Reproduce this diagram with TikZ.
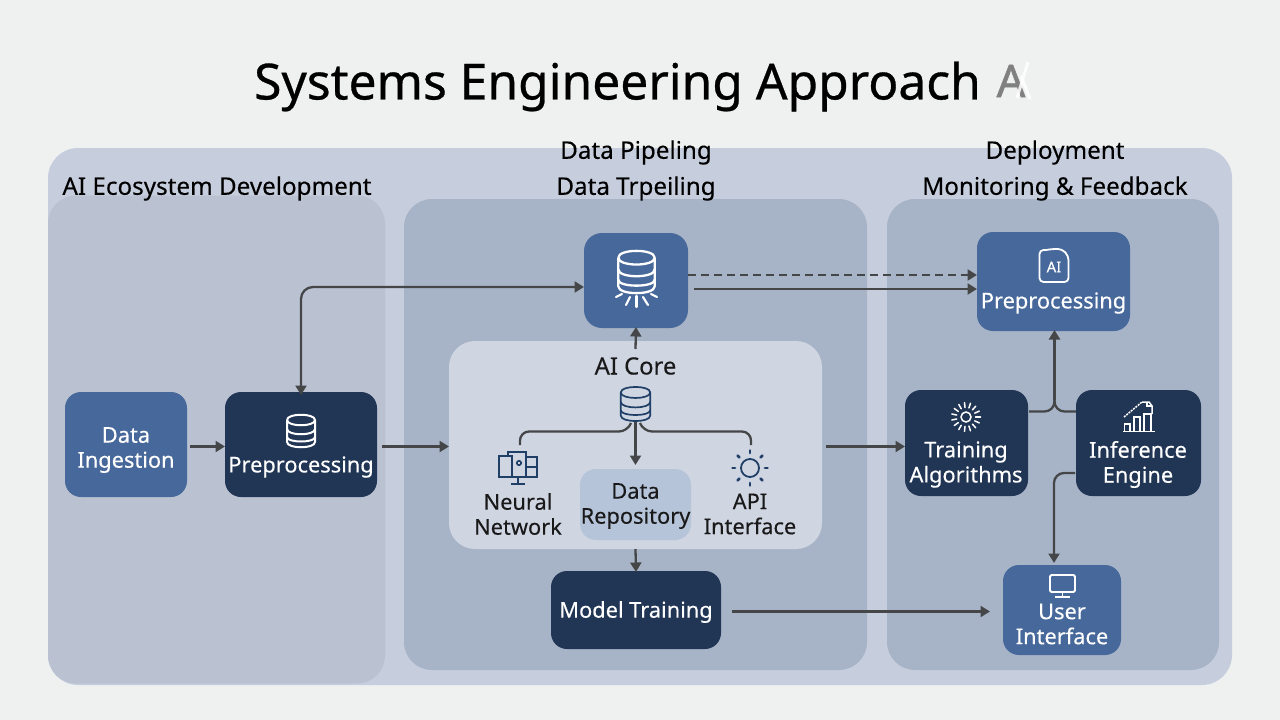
\documentclass[tikz,border=0pt]{standalone}
\usepackage{fontspec}
\setmainfont[FakeBold=0.25]{Noto Sans}
\newfontfamily\ghostfont[FakeBold=1.2]{Noto Sans}
\newfontfamily\titlefont[FakeBold=0.6]{Noto Sans}
\usetikzlibrary{arrows.meta}
\definecolor{bgc}{HTML}{EFF1F1}
\definecolor{outerc}{HTML}{C6CDDC}
\definecolor{leftc}{HTML}{BAC2D2}
\definecolor{panelc}{HTML}{A7B4C7}
\definecolor{corec}{HTML}{D0D5E2}
\definecolor{repoc}{HTML}{B6C4DA}
\definecolor{bluec}{HTML}{47689A}
\definecolor{navyc}{HTML}{213555}
\definecolor{linec}{HTML}{454648}
\definecolor{iconc}{HTML}{1F3F66}
\tikzset{
  x=1pt,y=-1pt,
  panelbox/.style={rounded corners=28pt,inner sep=0pt,outer sep=0pt},
  card/.style={rounded corners=16pt,inner sep=0pt,outer sep=0pt},
  bluecard/.style={card,fill=bluec},
  navycard/.style={card,fill=navyc},
  head/.style={font=\fontsize{24.2}{28}\selectfont,text=black,inner sep=0pt},
  wlabel/.style={font=\fontsize{21.8}{25}\selectfont,text=white,align=center,inner sep=0pt},
  dlabel/.style={font=\fontsize{21.8}{25}\selectfont,text=black!90,align=center,inner sep=0pt},
  conn/.style={draw=linec,line width=2.3pt},
  arrow/.style={conn,-{Triangle[length=9.5pt,width=11pt]}},
  pics/dbicon/.style n args={2}{code={
    \begin{scope}[draw=#1,line width=#2pt,fill=none,line join=round]
      \draw (-14,-11) .. controls (-14,-18) and (14,-18) .. (14,-11)
                      .. controls (14,-4) and (-14,-4) .. (-14,-11);
      \draw (-14,-11) -- (-14,11) .. controls (-14,18) and (14,18) .. (14,11) -- (14,-11);
      \draw (-14,-2) .. controls (-14,5) and (14,5) .. (14,-2);
      \draw (-14,6) .. controls (-14,12) and (14,12) .. (14,6);
    \end{scope}
  }},
}
\begin{document}
\begin{tikzpicture}
\useasboundingbox (0,0) rectangle (1280,720);
\fill[bgc] (0,0) rectangle (1280,720);

% title
\node[inner sep=0pt,font=\titlefont\fontsize{49.7}{56}\selectfont,text=black] (title) at (617.5,86.5) {Systems Engineering Approach};
\node[inner sep=0pt,font=\ghostfont\fontsize{45}{50}\selectfont,text=black!50] (ghost) at (1011,81) {A};
\draw[white,line width=3pt,opacity=.85] (1028,62) -- (1017,98);
\draw[white,line width=3pt,opacity=.85] (1021,76) -- (1030,99);

% panels
\fill[outerc,rounded corners=30pt] (48,148) rectangle (1232,685);
\node[panelbox,fill=leftc,minimum width=337pt,minimum height=488pt] (pleft) at (216.5,439.5) {};
\node[panelbox,fill=panelc,minimum width=463pt,minimum height=471pt] (pmid) at (635.5,434.5) {};
\node[panelbox,fill=panelc,minimum width=332pt,minimum height=471pt] (pright) at (1053,434.5) {};
\node[card,rounded corners=26pt,fill=corec,minimum width=373pt,minimum height=208pt] (core) at (635.5,445) {};
\node[card,fill=repoc,minimum width=111pt,minimum height=71pt] (repo) at (635.5,504.5) {};

% headers
\node[head] (h1) at (217,188.5) {AI Ecosystem Development};
\node[head] (h2) at (636,152.5) {Data Pipeling};
\node[head] (h3) at (636,188.5) {Data Trpeiling};
\node[head] (h4) at (1055,152.5) {Deployment};
\node[head] (h5) at (1055,188.5) {Monitoring \& Feedback};

% cards
\node[bluecard,minimum width=122pt,minimum height=105pt] (ingest) at (126,444.5) {};
\node[navycard,minimum width=152pt,minimum height=105pt] (prep) at (301,444.5) {};
\node[bluecard,rounded corners=18pt,minimum width=104pt,minimum height=95pt] (store) at (636,280.5) {};
\node[bluecard,minimum width=153pt,minimum height=99pt] (prepr) at (1053.5,281.5) {};
\node[navycard,minimum width=123pt,minimum height=106pt] (train) at (966.5,443) {};
\node[navycard,minimum width=125pt,minimum height=106pt] (infer) at (1138.5,443) {};
\node[navycard,minimum width=170pt,minimum height=78pt] (model) at (636,610) {};
\node[bluecard,minimum width=118pt,minimum height=90pt] (ui) at (1062,610) {};

% card labels
\node[wlabel] (lingest) at (126,450) {Data\\Ingestion};
\node[wlabel] (lprep) at (301,467) {Preprocessing};
\node[wlabel] (lprepr) at (1053.5,303) {Preprocessing};
\node[wlabel] (ltrain) at (966,464.5) {Training\\Algorithms};
\node[wlabel] (linfer) at (1138,464.5) {Inference\\Engine};
\node[wlabel] (lmodel) at (636,612) {Model Training};
\node[wlabel] (lui) at (1062,624) {User\\Interface};
\node[dlabel,font=\fontsize{23.8}{28}\selectfont] (lcore) at (635.5,366) {AI Core};
\node[dlabel] (lnn) at (518,514) {Neural\\Network};
\node[dlabel] (lrepo) at (635.5,506) {Data\\Repository};
\node[dlabel] (lapi) at (750,514) {API\\Interface};

% icons
\pic at (301,431) {dbicon={white}{2}};
\pic at (636.5,272) [scale=1.3] {dbicon={white}{2.3}};
\begin{scope}[white,line width=2.2pt,line cap=round]
  \draw (622,294) -- (616,297);
  \draw (651,294) -- (657,297);
  \draw (630,297) -- (626,305);
  \draw (643,297) -- (648,305);
  \draw (636.5,296) -- (636.5,307);
\end{scope}
\pic at (635.5,404) [scale=1.05] {dbicon={iconc}{1.7}};

% neural network icon
\begin{scope}[iconc,line width=1.6pt]
  \draw (499,456) rectangle (512,477);
  \draw (508,456) -- (508,452) -- (526,452) -- (526,477) -- (512,477);
  \draw (526,457) rectangle (537,477);
  \draw (526,467) -- (537,467);
  \draw (512,460) -- (512,474);
  \draw (519,463) circle[radius=2.2pt];
  \draw (518,477) -- (518,484);
  \draw (511,484) -- (525,484);
\end{scope}

% API sun icon
\begin{scope}[shift={(750,468)}]
  \draw[iconc,line width=1.8pt] (0,0) circle[radius=9pt];
  \foreach \a in {0,45,...,315}{
    \draw[iconc,line width=2.8pt,line cap=round] (\a:15pt) -- (\a:17.5pt);
  }
\end{scope}

% training sun icon
\begin{scope}[shift={(966,417)}]
  \draw[white,line width=1.5pt] (0,0) circle[radius=5pt];
  \foreach \a in {0,24,...,336}{
    \draw[white,line width=1.5pt,line cap=round] (\a:9.5pt) -- (\a:14.5pt);
  }
\end{scope}

% inference chart icon
\begin{scope}[white,line width=1.5pt]
  \draw (1123,431.5) -- (1155,431.5);
  \draw (1124.5,431.5) rectangle (1130,424);
  \draw (1134,431.5) rectangle (1140,417);
  \draw (1144,431.5) rectangle (1151,414);
  \draw[dash pattern=on 2pt off 1pt] (1124,417) -- (1142,402);
  \draw (1142,402) -- (1149,402) -- (1152,406) -- (1152,414);
  \draw (1147,402) -- (1147,406) -- (1152,406);
\end{scope}

% AI document icon
\draw[white,line width=1.8pt,rounded corners=4pt] (1046,250) -- (1039.5,250) -- (1039.5,282) -- (1068.5,282) -- (1068.5,256) -- (1062,249) -- (1052,249) -- (1046,250);
\node[inner sep=0pt,font=\fontsize{15}{18}\selectfont,text=white] (lai) at (1054,267) {AI};

% monitor icon (user interface)
\begin{scope}[white,line width=1.8pt]
  \draw[rounded corners=1.5pt] (1050,575) rectangle (1075,592);
  \draw (1062.5,592) -- (1062.5,596);
  \draw (1055,597) -- (1070,597);
\end{scope}

% connectors
\draw[arrow] (ingest.east |- 0,446.5) ++(3,0) -- (prep.west |- 0,446.5);
\draw[arrow] (prep.east |- 0,446.5) ++(5,0) -- (core.west |- 0,446.5);
\draw[arrow,{Triangle[length=9.5pt,width=11pt]}-{Triangle[length=9.5pt,width=11pt]},rounded corners=12pt]
  ([yshift=-3pt]prep.north) -- (301,287) -- (store.west |- 0,287);
\draw[arrow,dash pattern=on 8pt off 5pt] (store.east |- 0,275) -- (prepr.west |- 0,275);
\draw[arrow] (694,289) -- (prepr.west |- 0,289);
\draw[arrow] (core.north) ++(0,8) -- ([yshift=1pt]store.south);
\draw[arrow] (635.5,422) -- (635.5,465);
\draw[conn,rounded corners=9pt] (631,423) -- (628,431.5) -- (520,431.5) -- (520,445);
\draw[conn,rounded corners=9pt] (640,423) -- (643,431.5) -- (751,431.5) -- (751,445);
\draw[arrow] (core.south) -- ([yshift=-1pt]model.north);
\draw[arrow] (826,446.5) -- (train.west |- 0,446.5);
\draw[arrow] (732,611.5) -- ([xshift=-13pt]ui.west |- 0,611.5);
\draw[arrow] (1054.5,400) -- ([xshift=1pt,yshift=1pt]prepr.south);
\draw[conn,rounded corners=10pt] (train.east |- 0,411.5) ++(1,0) -- (1054.5,411.5) -- (1054.5,398);
\draw[conn,rounded corners=10pt] (infer.west |- 0,411.5) -- (1054.5,411.5) -- (1054.5,398);
\draw[arrow,rounded corners=10pt] ([xshift=-1pt]infer.west |- 0,473) -- (1054,473) -- (1054,563);
\end{tikzpicture}
\end{document}
